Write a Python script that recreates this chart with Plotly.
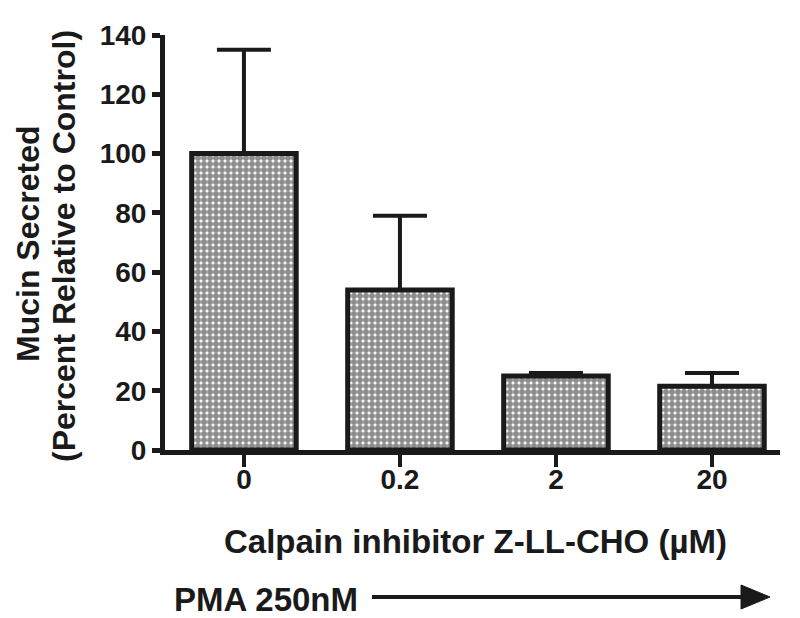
import plotly.graph_objects as go

categories = ["0", "0.2", "2", "20"]
means = [100, 54, 25, 21.5]
err_up = [35, 25, 1, 4.5]
y_ticks = [0, 20, 40, 60, 80, 100, 120, 140]

FONT = "Liberation Sans"
INK = "#1a1a1a"

OFF = 8
L, T, PW, PH = 165, 35, 615, 415

fig = go.Figure()
fig.add_trace(go.Bar(
    x=list(range(len(categories))), y=means, width=0.67,
    marker=dict(color="white", line=dict(color=INK, width=5),
                pattern=dict(shape=".", size=6, solidity=0.75, fgcolor=INK,
                             bgcolor="white", fillmode="overlay")),
    error_y=dict(type="data", symmetric=False, array=err_up, arrayminus=[0]*4,
                 color=INK, thickness=4, width=27),
))

fig.update_layout(
    width=800 - OFF, height=618 - OFF, plot_bgcolor="white", paper_bgcolor="white",
    margin=dict(l=L - OFF, r=800 - L - PW, t=T - OFF, b=618 - T - PH), showlegend=False,
    font=dict(family=FONT, color=INK),
)
fig.update_xaxes(
    range=[-0.506, 3.436], tickmode="array", tickvals=list(range(4)), ticktext=categories,
    showline=True, linecolor=INK, linewidth=5, ticks="outside", ticklen=12,
    tickwidth=4, tickcolor=INK, showgrid=False, zeroline=False, ticklabelstandoff=-12,
    tickfont=dict(family=FONT, size=28, weight="bold", color=INK),
)
fig.update_yaxes(
    range=[0, 140], tickvals=y_ticks, showline=True, linecolor=INK, linewidth=5,
    ticks="outside", ticklen=8, tickwidth=5, tickcolor=INK, showgrid=False,
    zeroline=False, tickfont=dict(family=FONT, size=28, weight="bold", color=INK),
)

def px(xp):
    return (xp - L) / PW

def py(yp):
    return (T + PH - yp) / PH

ann_font = dict(family=FONT, size=32, weight="bold", color=INK)
common = dict(xref="paper", yref="paper", showarrow=False, font=ann_font,
              xanchor="center", yanchor="middle")
fig.add_annotation(text="Mucin Secreted", x=px(28), y=py(244), textangle=-90, **common)
fig.add_annotation(text="(Percent Relative to Control)", x=px(64), y=py(246),
                   textangle=-90, **common)
fig.add_annotation(text="Calpain inhibitor Z-LL-CHO (µM)", x=px(475), y=py(541),
                   **dict(common, font=dict(ann_font, size=33)))
common_left = dict(common, xanchor="left", font=dict(ann_font, size=33))
fig.add_annotation(text="PMA 250nM", x=px(172), y=py(599), **common_left)

fig.add_shape(type="line", xref="paper", yref="paper", x0=px(372), x1=px(745),
              y0=py(597), y1=py(597), line=dict(color=INK, width=4))
fig.add_shape(type="path", xref="paper", yref="paper",
              path=f"M {px(741)} {py(585)} L {px(770)} {py(597)} L {px(741)} {py(609)} Z",
              fillcolor=INK, line=dict(color=INK, width=1))

fig.write_html("out.html")
